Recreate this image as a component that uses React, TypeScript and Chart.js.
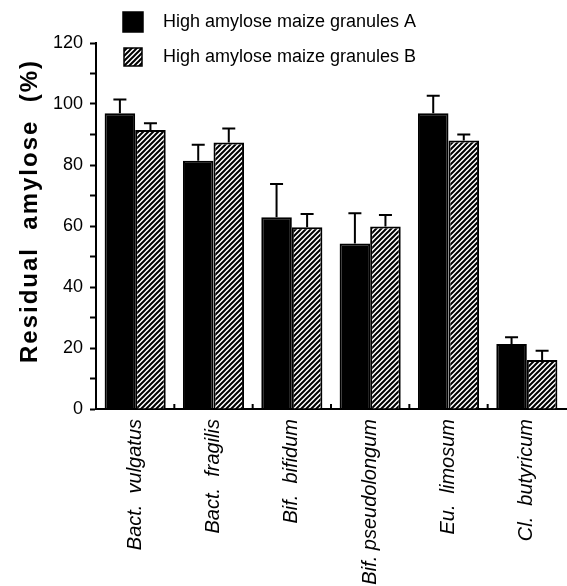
import React, { useEffect, useRef } from 'react';
import { Chart, registerables } from 'chart.js';

Chart.register(...registerables);

const categories = [
  'Bact.  vulgatus',
  'Bact.  fragilis',
  'Bif.  bifidum',
  'Bif. pseudolongum',
  'Eu.  limosum',
  'Cl.  butyricum',
];
const seriesALabel = 'High amylose maize granules A';
const seriesBLabel = 'High amylose maize granules B';
const seriesA = [97, 81.4, 62.9, 54.3, 97, 21.3];
const errorsA = [4.5, 5.2, 10.9, 9.9, 5.7, 2.2];
const seriesB = [91.5, 87.4, 59.6, 59.8, 88, 16.1];
const errorsB = [2.2, 4.6, 4.3, 3.8, 2, 3];
const yTitle = 'Residual  amylose  (%)';
const yMin = 0;
const yMax = 120;
const yMinorStep = 10;
const yLabelStep = 20;

const FONT = "'Liberation Sans', Arial, Helvetica, sans-serif";

function makeHatch(): CanvasPattern {
  const s = 5;
  const c = document.createElement('canvas');
  c.width = s;
  c.height = s;
  const g = c.getContext('2d')!;
  g.fillStyle = '#ffffff';
  g.fillRect(0, 0, s, s);
  g.strokeStyle = '#000000';
  g.lineWidth = 2;
  g.beginPath();
  g.moveTo(-1, s + 1);
  g.lineTo(s + 1, -1);
  g.moveTo(-1, 1);
  g.lineTo(1, -1);
  g.moveTo(s - 1, s + 1);
  g.lineTo(s + 1, s - 1);
  g.stroke();
  return g.createPattern(c, 'repeat')!;
}

export default function App() {
  const ref = useRef<HTMLCanvasElement | null>(null);

  useEffect(() => {
    document.body.style.margin = '0';
    const canvas = ref.current;
    if (!canvas) return;
    const hatch = makeHatch();
    const errs = [errorsA, errorsB];

    const decor = {
      id: 'decor',
      afterDatasetsDraw(chart: any) {
        const ctx = chart.ctx as CanvasRenderingContext2D;
        const ys = chart.scales.y;
        const xs = chart.scales.x;
        ctx.save();
        ctx.strokeStyle = '#000';
        ctx.lineWidth = 2;
        // error bars (upper only)
        errs.forEach((e, di) => {
          const meta = chart.getDatasetMeta(di);
          meta.data.forEach((bar: any, i: number) => {
            const v = chart.data.datasets[di].data[i] as number;
            const yE = ys.getPixelForValue(v + e[i]);
            ctx.beginPath();
            ctx.moveTo(bar.x, bar.y);
            ctx.lineTo(bar.x, yE);
            ctx.moveTo(bar.x - 6.5, yE);
            ctx.lineTo(bar.x + 6.5, yE);
            ctx.stroke();
          });
        });
        // inward category boundary ticks on x axis
        const bottom = chart.chartArea.bottom;
        for (let i = 1; i < categories.length; i++) {
          const bx = (xs.getPixelForTick(i - 1) + xs.getPixelForTick(i)) / 2;
          ctx.beginPath();
          ctx.moveTo(bx, bottom);
          ctx.lineTo(bx, bottom - 5);
          ctx.stroke();
        }
        ctx.restore();
      },
      afterDraw(chart: any) {
        const ctx = chart.ctx as CanvasRenderingContext2D;
        ctx.save();
        // y axis title
        ctx.fillStyle = '#000';
        ctx.font = `bold 24px ${FONT}`;
        (ctx as any).letterSpacing = '2px';
        ctx.textAlign = 'center';
        ctx.textBaseline = 'middle';
        ctx.translate(30, 211);
        ctx.rotate(-Math.PI / 2);
        ctx.fillText(yTitle, 0, 0);
        ctx.restore();

        // legend
        ctx.save();
        (ctx as any).letterSpacing = '0px';
        ctx.font = `18px ${FONT}`;
        ctx.fillStyle = '#000';
        ctx.textAlign = 'left';
        ctx.textBaseline = 'middle';
        const items = chart.data.datasets.map((d: any) => d.label);
        const rows = [22, 57];
        items.forEach((label: string, i: number) => {
          const cy = rows[i];
          const sz = i === 0 ? 20 : 18;
          const sx = 133 - sz / 2;
          const sy = cy - sz / 2;
          ctx.fillStyle = i === 0 ? '#000' : hatch;
          ctx.fillRect(sx, sy, sz, sz);
          ctx.strokeStyle = '#000';
          ctx.lineWidth = 1.5;
          ctx.strokeRect(sx, sy, sz, sz);
          ctx.fillStyle = '#000';
          ctx.fillText(label, 163, cy);
        });
        ctx.restore();
      },
    };

    const chart = new Chart(canvas, {
      type: 'bar',
      data: {
        labels: categories,
        datasets: [
          {
            label: seriesALabel,
            data: seriesA,
            backgroundColor: '#000',
            borderColor: '#000',
            borderWidth: 2,
            categoryPercentage: 0.78,
            barPercentage: 1,
          },
          {
            label: seriesBLabel,
            data: seriesB,
            backgroundColor: hatch as any,
            borderColor: '#000',
            borderWidth: 2,
            categoryPercentage: 0.78,
            barPercentage: 1,
          },
        ],
      },
      options: {
        responsive: false,
        animation: false,
        layout: { padding: { top: 43, right: 1, left: 0, bottom: 0 } },
        plugins: {
          legend: { display: false },
          tooltip: { enabled: false },
          title: { display: false },
        },
        scales: {
          x: {
            grid: { display: false },
            border: { display: true, color: '#000', width: 2 },
            ticks: {
              color: '#000',
              font: { family: FONT, size: 20, style: 'italic' },
              minRotation: 90,
              maxRotation: 90,
              autoSkip: false,
              padding: 2,
            },
            afterFit: (s: any) => {
              s.height = 177;
            },
          },
          y: {
            min: yMin,
            max: yMax,
            grid: {
              drawOnChartArea: false,
              color: '#000',
              tickLength: 6,
              tickWidth: 2,
            },
            border: { display: true, color: '#000', width: 2 },
            ticks: {
              stepSize: yMinorStep,
              color: '#000',
              font: { family: FONT, size: 18 },
              padding: 7,
              callback: (v: any) => (Number(v) % yLabelStep === 0 ? String(v) : ''),
            },
            afterFit: (s: any) => {
              s.width = 96;
            },
          },
        },
      },
      plugins: [decor],
    });
    return () => chart.destroy();
  }, []);

  return (
    <div style={{ position: 'absolute', left: 0, top: 0, width: 567, height: 586 }}>
      <canvas ref={ref} width={567} height={586} />
    </div>
  );
}
